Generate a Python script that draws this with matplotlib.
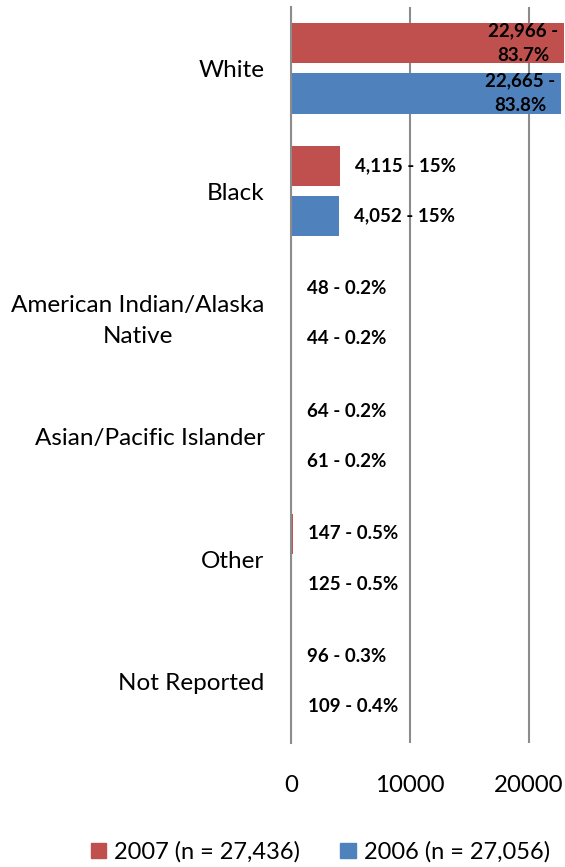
import numpy as np
import matplotlib
matplotlib.use('Agg')
import matplotlib.pyplot as plt
from matplotlib.patches import Patch

categories = ['White', 'Black', 'American Indian/Alaska\nNative',
              'Asian/Pacific Islander', 'Other', 'Not Reported']
counts_2007 = [22966, 4115, 48, 64, 147, 96]
counts_2006 = [22665, 4052, 44, 61, 125, 109]
pct_2007 = ['83.7%', '15%', '0.2%', '0.2%', '0.5%', '0.3%']
pct_2006 = ['83.8%', '15%', '0.2%', '0.2%', '0.5%', '0.4%']
legend_labels = ['2007 (n = 27,436)', '2006 (n = 27,056)']

red = '#C0504D'
blue = '#4F81BD'
grid_col = '#8C8C8C'

plt.rcParams['font.family'] = ['Lato', 'DejaVu Sans']

fig = plt.figure(figsize=(5.65, 8.67), dpi=100)
ax = fig.add_axes([291 / 565, (867 - 743) / 867, (565 - 291) / 565, (743 - 7) / 867])

y = np.arange(len(categories))
off = 0.205
h = 0.33
ax.barh(y - off, counts_2007, height=h, color=red, zorder=3)
ax.barh(y + off, counts_2006, height=h, color=blue, zorder=3)

ax.set_xlim(0, 23030)
ax.set_ylim(len(categories) - 0.5, -0.5)

def add_label(val, ypos, pct):
    if val > 20000:
        ax.annotate('{:,} -\n{}'.format(val, pct), (val, ypos), xytext=(-4, 0),
                    textcoords='offset points', ha='right', va='center',
                    multialignment='center', fontsize=13.5, fontweight='bold',
                    linespacing=1.55, zorder=5)
    else:
        ax.annotate('{:,} - {}'.format(val, pct), (val, ypos), xytext=(11, 0),
                    textcoords='offset points', ha='left', va='center',
                    fontsize=13.5, fontweight='bold', zorder=5)

for i in range(len(categories)):
    add_label(counts_2007[i], y[i] - off, pct_2007[i])
    add_label(counts_2006[i], y[i] + off, pct_2006[i])

ax.set_xticks([0, 10000, 20000])
ax.set_xticklabels(['0', '10000', '20000'], fontsize=17.3)
ax.set_yticks(y)
ax.set_yticklabels(categories, fontsize=17.5, multialignment='center')
for t in ax.get_yticklabels():
    t.set_linespacing(1.6)
ax.tick_params(axis='x', length=0, pad=23)
ax.tick_params(axis='y', length=0, pad=19)

ax.grid(axis='x', color=grid_col, linewidth=1.5, zorder=0)
for s in ['top', 'right', 'bottom']:
    ax.spines[s].set_visible(False)
ax.spines['left'].set_color(grid_col)
ax.spines['left'].set_linewidth(1.5)
ax.spines['left'].set_zorder(4)

handles = [Patch(color=red), Patch(color=blue)]
fig.legend(handles, legend_labels, loc='center', bbox_to_anchor=(0.567, 1 - 852 / 867),
           ncol=2, frameon=False, fontsize=17, handlelength=0.65, handleheight=0.65,
           handletextpad=0.35, columnspacing=1.7)

fig.savefig('out.png', dpi=100)
